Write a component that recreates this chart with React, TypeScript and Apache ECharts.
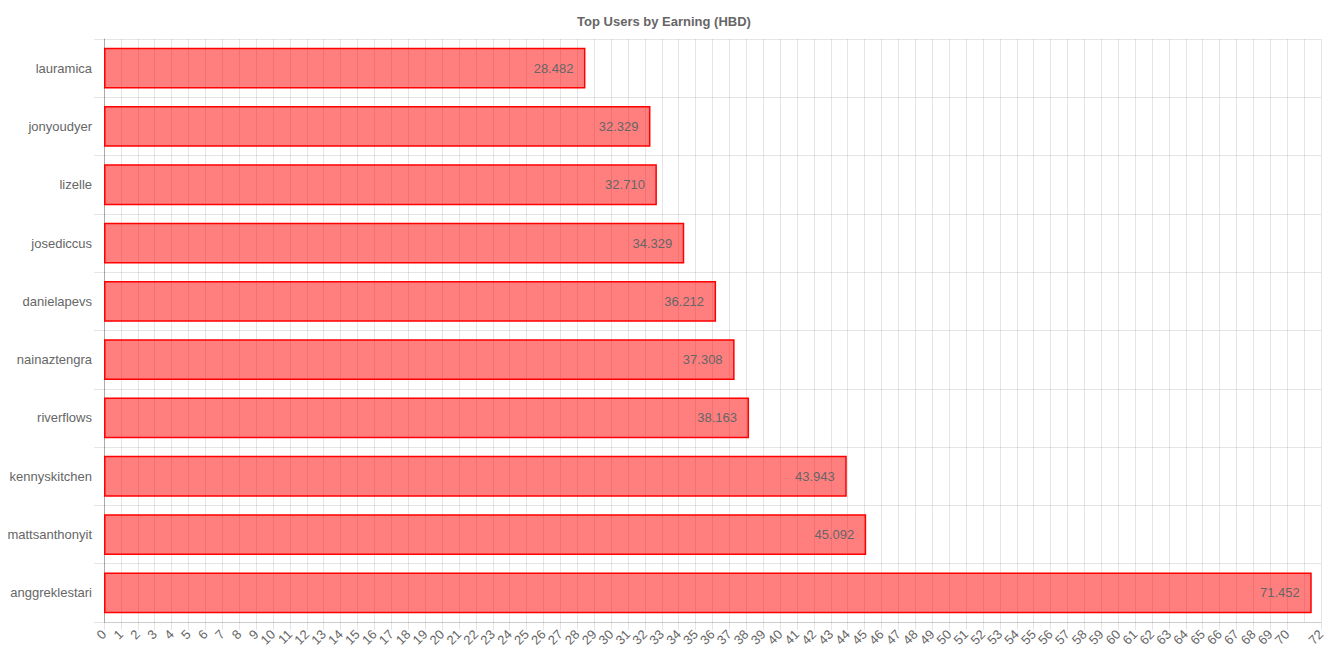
import React, { useEffect, useRef } from "react";
import * as echarts from "echarts";

const users = [
  "lauramica",
  "jonyoudyer",
  "lizelle",
  "josediccus",
  "danielapevs",
  "nainaztengra",
  "riverflows",
  "kennyskitchen",
  "mattsanthonyit",
  "anggreklestari",
];
const earnings = [28.482, 32.329, 32.71, 34.329, 36.212, 37.308, 38.163, 43.943, 45.092, 71.452];
const xMin = 0;
const xMax = 72;
const xStep = 1;
const title = "Top Users by Earning (HBD)";

export default function App() {
  const ref = useRef<HTMLDivElement>(null);
  useEffect(() => {
    if (!ref.current) return;
    const chart = echarts.init(ref.current, undefined, { renderer: "svg" });
    const font = "Arial, 'Liberation Sans', Helvetica, sans-serif";
    const gridColor = "rgba(0,0,0,0.1)";
    chart.setOption({
      animation: false,
      textStyle: { fontFamily: font },
      title: {
        text: title,
        left: "center",
        top: 10,
        textStyle: { fontSize: 13, fontWeight: "bold", color: "#666", fontFamily: font },
      },
      grid: { left: 104, right: 7, top: 39, bottom: 42, containLabel: false },
      xAxis: {
        type: "value",
        min: xMin,
        max: xMax,
        interval: xStep,
        axisLine: { show: true, lineStyle: { color: gridColor } },
        axisTick: { show: true, length: 8, lineStyle: { color: gridColor } },
        splitLine: { show: true, lineStyle: { color: gridColor } },
        axisLabel: {
          rotate: 45,
          fontSize: 13,
          color: "#666",
          margin: 10,
          fontFamily: font,
          showMinLabel: true,
          showMaxLabel: true,
          hideOverlap: false,
        },
      },
      yAxis: {
        type: "category",
        data: users,
        inverse: true,
        axisLine: { show: true, lineStyle: { color: "rgba(0,0,0,0.25)" } },
        axisTick: { show: true, length: 10, lineStyle: { color: gridColor } },
        splitLine: { show: true, lineStyle: { color: gridColor } },
        axisLabel: { fontSize: 13, color: "#666", margin: 12, fontFamily: font },
      },
      series: [
        {
          type: "bar",
          data: earnings,
          barCategoryGap: "30%",
          itemStyle: {
            color: "rgba(255,0,0,0.5)",
            borderColor: "rgba(255,0,0,1)",
            borderWidth: 1.5,
          },
          label: {
            show: true,
            position: "insideRight",
            distance: 12,
            color: "#666",
            fontSize: 13,
            fontFamily: font,
            formatter: (p: any) => Number(p.value).toFixed(3),
          },
        },
      ],
    });
    return () => chart.dispose();
  }, []);
  return (
    <div
      ref={ref}
      style={{ position: "fixed", left: 0, top: 0, width: 1328, height: 664, background: "#fff" }}
    />
  );
}
